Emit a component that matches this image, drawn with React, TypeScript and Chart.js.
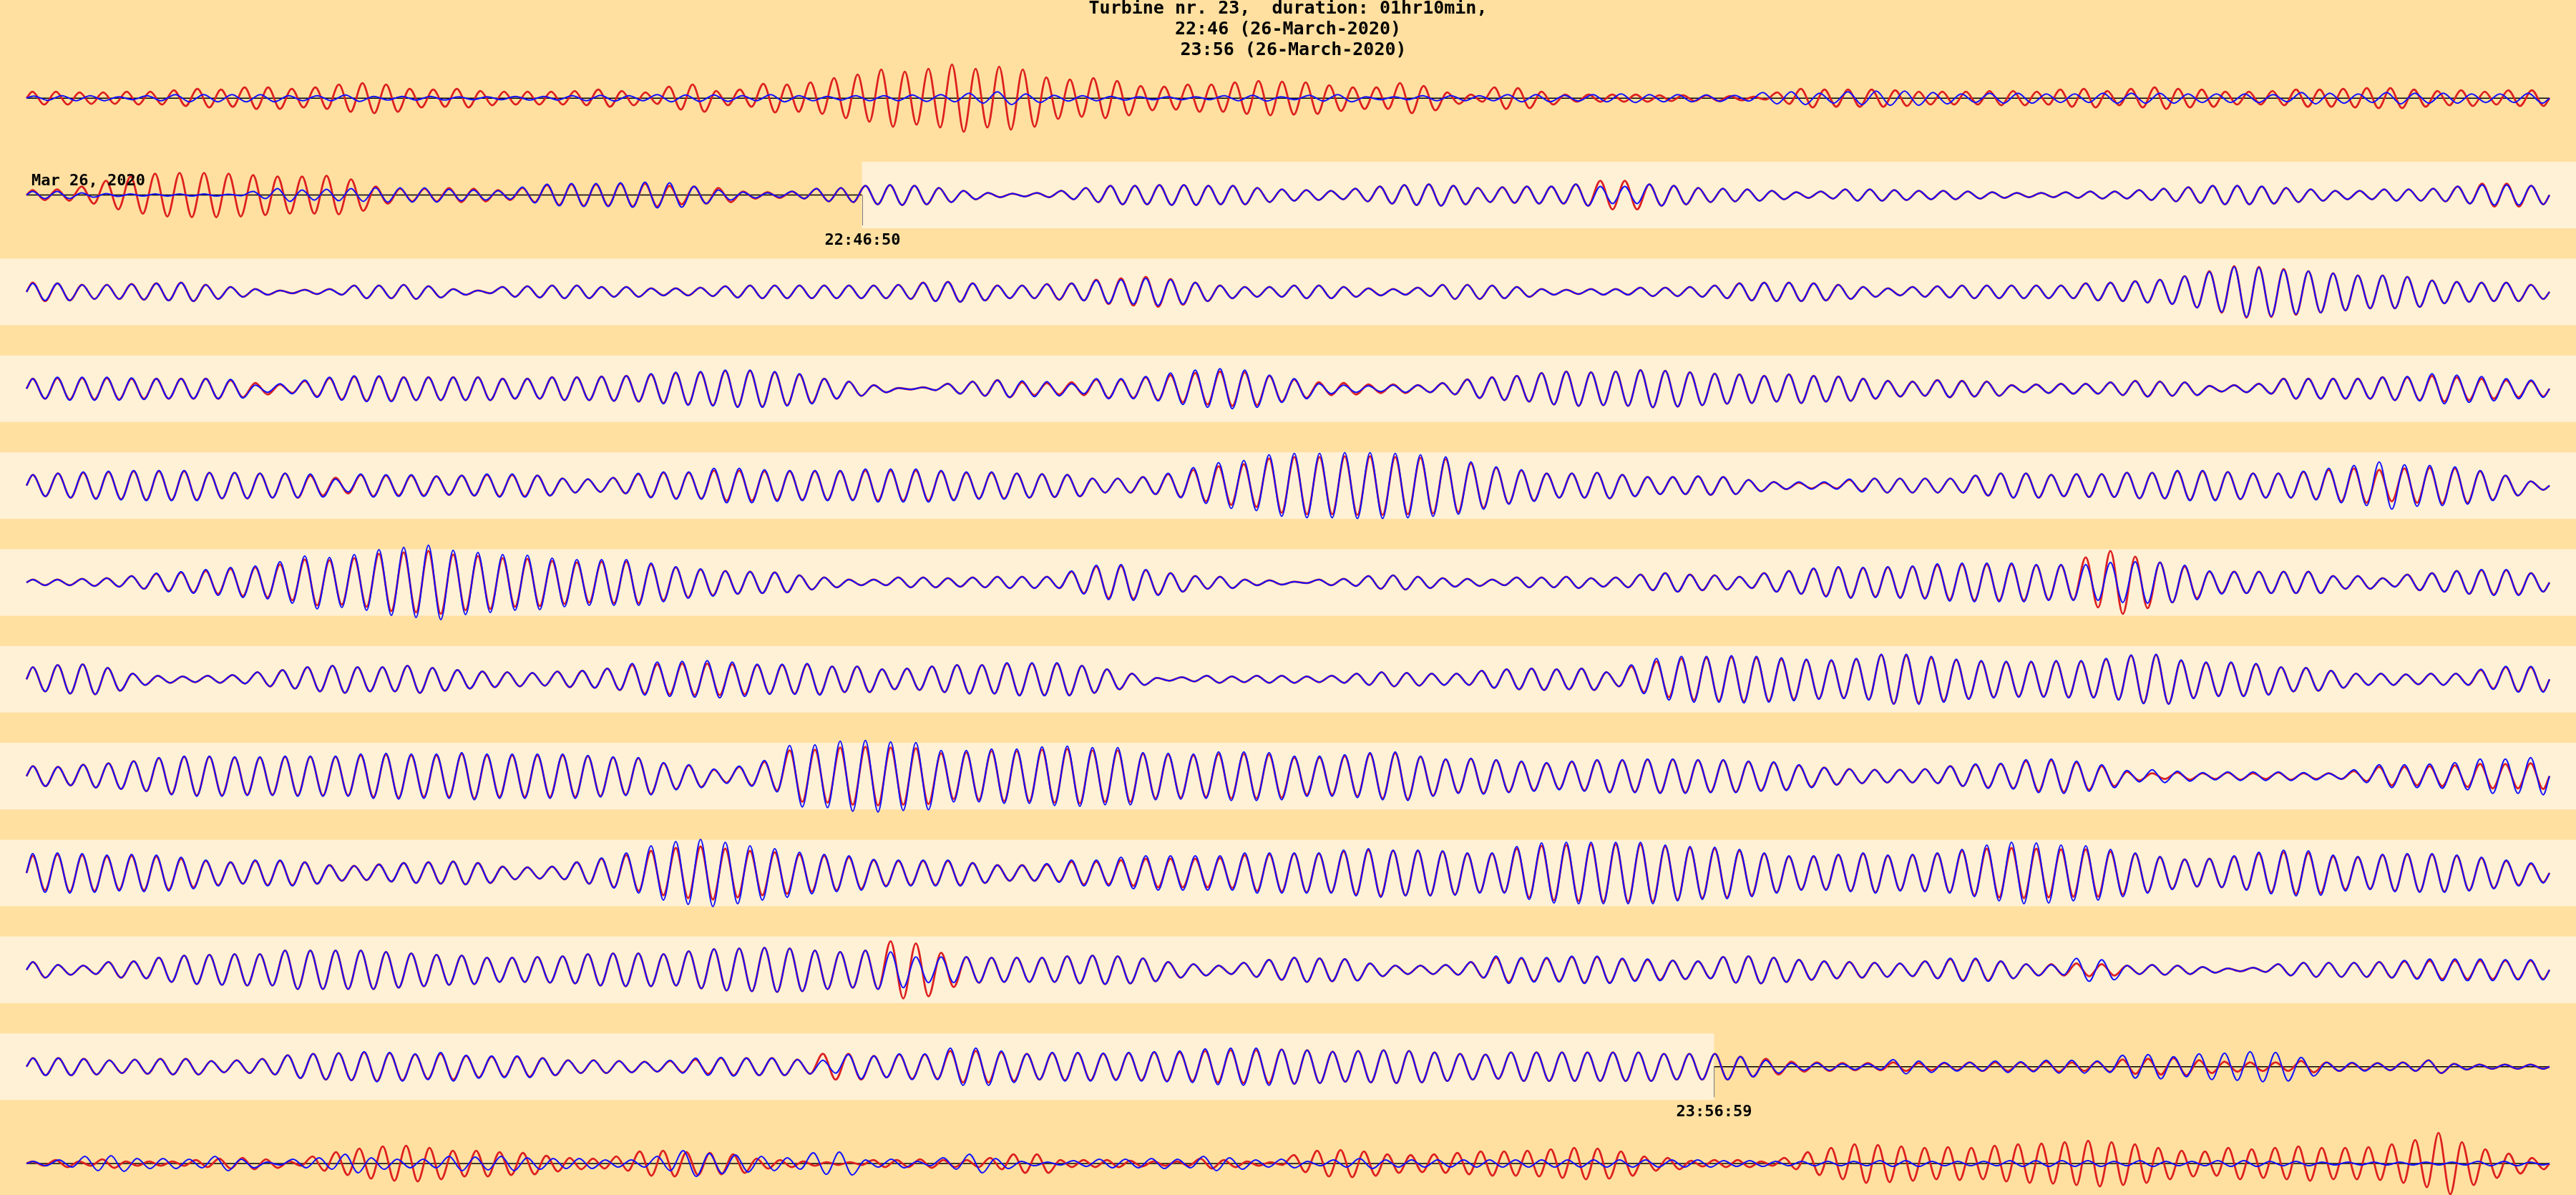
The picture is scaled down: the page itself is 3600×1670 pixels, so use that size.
import React, { useEffect, useRef } from "react";
import { Chart, registerables } from "chart.js";

Chart.register(...registerables);

// ---------- texts ----------
const TITLE_LINES = [
  "Turbine nr. 23,  duration: 01hr10min,",
  "22:46 (26-March-2020)",
  " 23:56 (26-March-2020)",
];
const DATE_LABEL = "Mar 26, 2020";
const FIRST_ROW_START = "22:36:50";
const ROW_SECONDS = 450.75;
const BAND_START = "22:46:50";
const BAND_END = "23:56:59";

// ---------- data: amplitude of each oscillation cycle, per row ----------
const ROW01_RED = [9,9,8,8,9,9,11,13,12,15,15,13,15,19,21,19,13,12,13,10,9,9,9,10,12,10,8,16,19,10,12,20,19,22,28,33,40,37,41,47,41,44,40,29,26,28,24,17,16,19,19,22,24,23,22,18,15,15,21,17,8,5,15,14,9,5,5,5,5,4,4,4,3,2,8,13,12,12,12,11,9,9,9,10,10,9,12,13,10,13,15,13,12,9,9,10,12,12,13,14,14,12,10,11,9,11,11];
const ROW01_BLUE = [3,3.5,3.5,2,3.5,5,5,5,5,3.5,3.5,4.5,2.5,2.5,2.5,2,2,2.5,2.5,3.5,4,3.5,5,4.5,4.5,3.5,5,3.5,2.5,3.5,3.5,4.5,5,7,9,6,4,3.5,2.5,2,2,2,3.5,4,2,4,5,2,2,3.5,3.5,3.5,5,5,4,5,6,5,5,4.5,4,8,9,7,9,10,10,8,6,7,7,6,6,7,7,7,6,6,6,5,8,7,6,8,7,7,6,6,7];
const ROW02_RED = [7,8,12,20,26,30,31,31,30,28,26,26,27,22,12,9,9,10,9,7,10,14,15,15,16,16,13,12,10,5,4,5,9,10,13,14,13,10,6,3,2,3,6,10,13,13,14,14,13,13,10,8,7,6,9,12,14,15,13,10,11,12,12,15,20,20,15,13,10,9,8,6,4,5,8,8,7,6,6,5,4,3,3,4,5,5,7,9,11,13,13,12,10,8,6,6,8,8,9,12,16,16,13];
const ROW02_BLUE = [5,5,3,2,1.5,1.5,1.5,1.5,1,5,9,7,8,9,10,10,10,8,7,6,11,15,16,16,17,18,17,12,7,4,3,5,9,10,13,14,13,10,6,3,2,3,6,10,13,13,14,14,13,13,10,8,7,6,9,12,14,15,13,10,11,12,12,15,12,12,15,13,10,9,8,6,4,5,8,8,7,6,6,5,4,3,3,4,5,5,7,9,11,13,13,12,10,8,6,6,8,8,9,12,14,14,13];
const ROW03_RED = [13,12,10,10,11,12,13,10,7,4,2,3,4,9,9,10,8,4,2,7,8,9,9,7,7,5,5,6,8,9,9,9,9,9,9,10,13,14,12,9,9,11,12,17,19,21,18,13,9,7,7,9,9,7,5,4,6,10,10,9,7,4,3,4,4,6,6,7,9,12,13,13,12,10,7,5,7,8,9,9,9,9,9,12,13,15,17,22,29,36,35,32,29,26,23,23,21,16,14,13,13,10];
const ROW03_BLUE = [12,12,10,10,11,12,13,10,7,4,2,3,4,9,9,10,8,4,2,7,8,9,9,7,7,5,5,6,8,9,9,9,9,9,9,10,13,14,12,9,9,11,12,16,17,19,17,13,9,7,7,9,9,7,5,4,6,10,10,9,7,4,3,4,4,6,6,7,9,12,13,13,12,10,7,5,7,8,9,9,9,9,9,12,13,15,17,22,28,35,34,31,29,26,23,23,21,16,14,13,13,10];
const ROW04_RED = [14,15,15,15,14,14,14,14,12,8,6,11,15,17,17,16,16,16,16,14,14,16,16,17,18,20,22,23,25,25,23,20,14,10,5,1,2,7,10,12,9,8,9,13,13,16,19,22,24,23,18,13,9,8,6,6,5,8,13,16,18,22,24,23,24,26,25,23,21,20,18,20,18,17,14,11,10,12,11,10,5,6,7,7,9,11,10,9,4,5,7,14,14,14,14,16,16,18,16,14,12,11];
const ROW04_BLUE = [14,16,16,16,15,14,14,14,13,5,7,12,16,18,18,16,16,16,16,14,14,16,16,17,18,21,23,24,26,26,24,21,14,10,5,1,2,7,10,12,11,10,7,14,14,17,22,26,28,26,19,14,7,5,4,5,5,8,13,16,18,22,24,23,24,26,25,23,21,20,18,20,18,17,14,11,10,12,11,10,5,6,7,7,9,11,10,9,4,5,7,14,14,14,14,16,17,21,19,17,14,12];
const ROW05_RED = [15,17,18,19,20,20,20,18,18,17,17,14,11,15,14,14,13,14,15,15,14,10,9,11,16,18,18,21,21,20,20,20,20,21,21,21,20,18,18,17,16,15,10,10,12,16,22,27,30,38,40,40,41,41,40,39,37,31,25,21,17,17,18,15,12,12,13,12,8,5,4,4,8,10,10,10,10,14,17,17,15,16,16,18,18,20,20,19,17,17,19,22,24,22,24,25,24,20,14,6];
const ROW05_BLUE = [15,17,19,20,21,21,21,18,18,17,17,16,9,16,15,15,13,14,16,16,14,10,9,11,17,19,19,24,24,22,21,21,21,23,23,23,21,19,19,17,16,15,10,10,12,17,25,32,35,43,45,45,46,46,45,43,40,33,26,22,17,17,18,15,12,12,13,12,8,5,5,5,9,10,10,10,10,14,17,17,15,16,16,18,18,21,21,19,17,17,20,24,28,33,29,28,26,21,14,6];
const ROW06_RED = [4,4,5,6,9,12,14,16,19,21,25,32,31,34,40,42,44,39,37,34,33,30,28,29,29,25,21,18,16,15,14,10,7,4,4,7,7,6,7,8,8,8,15,22,23,17,13,9,8,4,3,1,4,5,9,10,8,6,5,4,7,7,8,6,7,11,13,11,10,8,13,16,19,21,20,21,22,24,25,25,25,24,24,35,44,36,28,22,15,15,15,15,15,9,9,6,11,13,16,17,17,13];
const ROW06_BLUE = [4,4,5,6,9,13,15,18,21,23,29,37,35,39,46,49,52,45,42,39,38,34,32,32,32,27,22,19,16,15,14,10,7,4,4,7,7,6,7,8,8,8,16,24,25,18,13,9,8,4,3,1,4,5,9,10,8,6,5,4,7,7,8,6,7,11,13,11,10,8,13,16,20,22,21,22,23,26,27,27,27,25,25,25,28,29,28,24,16,15,15,15,15,9,9,6,11,13,16,18,18,13];
const ROW07_RED = [17,20,21,16,8,5,4,5,6,10,13,17,19,17,17,19,16,13,11,10,9,11,12,15,20,21,22,22,21,20,20,21,18,18,14,15,18,20,20,22,22,22,19,14,8,2,3,5,4,5,5,4,5,8,10,9,8,8,12,14,15,14,15,10,18,25,29,30,31,30,28,27,26,28,34,33,30,27,25,24,24,25,25,28,33,34,26,23,23,21,17,16,12,8,8,7,8,8,13,17,17];
const ROW07_BLUE = [17,20,21,16,8,5,4,5,6,10,13,17,19,17,17,19,16,13,11,10,9,11,12,15,22,24,25,26,24,21,21,22,18,18,14,15,18,20,20,23,23,23,19,14,8,2,3,5,4,5,5,4,5,8,10,9,8,8,12,14,15,14,15,10,20,29,32,32,33,32,30,28,27,29,35,35,32,28,26,25,25,26,26,29,34,35,27,24,24,22,17,16,12,8,8,7,8,8,14,18,18];
const ROW08_RED = [14,13,16,18,21,25,27,27,26,26,27,27,27,29,30,29,29,31,29,29,29,29,28,26,25,18,15,9,13,20,36,37,40,41,40,39,32,33,35,35,37,38,36,36,31,30,29,31,31,30,26,26,28,31,32,27,23,24,22,20,18,20,22,22,23,23,22,22,20,19,15,12,10,9,9,10,14,16,17,21,22,19,14,6,4,5,4,5,4,5,4,4,7,13,13,14,15,17,17,18];
const ROW08_BLUE = [14,13,16,18,21,26,28,28,27,27,28,28,28,31,32,31,31,33,31,31,31,31,29,27,26,19,16,10,14,22,43,44,49,50,48,47,36,36,38,38,41,42,40,40,33,32,31,34,34,33,28,28,30,33,34,28,24,25,23,21,19,21,23,23,24,24,23,23,21,20,16,12,10,9,9,10,14,17,18,23,24,21,16,8,9,7,5,6,6,6,5,4,9,16,16,17,19,24,24,26];
const ROW09_RED = [24,26,25,23,24,23,20,17,15,17,17,15,11,10,12,14,15,16,14,9,8,9,15,20,25,31,35,37,34,31,29,26,24,22,18,17,17,17,14,11,11,12,16,16,18,20,20,20,21,25,26,27,27,30,32,31,31,30,27,27,34,38,39,40,40,40,37,35,34,31,27,23,23,25,27,24,25,27,31,34,35,34,33,33,30,27,22,19,20,23,27,29,28,23,22,25,26,26,24,21,17,13];
const ROW09_BLUE = [27,28,27,25,26,25,22,18,15,18,18,15,11,10,12,14,15,16,14,9,8,9,15,21,28,38,44,47,43,38,34,29,26,24,19,18,18,18,14,11,11,13,18,18,22,24,24,24,24,28,28,28,28,32,34,32,32,31,28,28,37,42,43,43,43,43,39,37,36,33,28,24,24,26,28,25,26,28,33,39,43,42,39,38,33,28,23,19,20,24,29,32,31,25,23,26,27,27,25,22,18,14];
const ROW10_RED = [11,7,6,11,12,17,20,21,22,22,27,27,27,27,25,23,21,20,17,17,18,19,22,23,23,22,26,29,30,31,30,27,25,27,40,37,24,18,17,17,17,19,20,19,16,11,8,6,10,14,17,16,15,9,6,6,7,11,17,16,16,18,18,15,14,13,12,18,19,17,14,12,11,10,9,12,15,15,12,8,8,9,8,6,7,6,4,2,3,8,10,10,10,11,12,13,13,13,13,13];
const ROW10_BLUE = [11,7,6,11,12,17,20,21,22,22,27,27,27,27,25,23,21,20,17,17,18,19,22,23,23,22,26,29,30,31,30,27,25,27,25,18,18,18,17,17,17,19,20,19,16,11,8,6,10,14,17,16,15,9,6,6,7,11,19,17,17,19,19,16,15,13,12,18,19,17,14,12,11,10,9,12,16,16,12,8,7,16,14,6,7,6,4,2,3,8,10,10,10,11,13,15,15,15,14,14];
const ROW11_RED = [12,12,11,9,10,11,11,8,9,11,16,18,19,20,19,17,18,15,14,14,12,9,9,8,7,8,10,12,12,12,10,18,18,15,17,17,22,22,20,18,19,19,18,19,20,20,22,23,23,24,23,21,22,23,22,20,18,17,20,20,20,20,20,20,18,18,18,14,11,7,6,5,5,6,5,5,6,6,6,7,6,7,10,11,12,9,7,6,6,8,6,5,5,6,9,4,3,3,3];
const ROW11_BLUE = [12,12,11,9,10,11,11,8,9,11,16,18,19,21,20,18,20,16,15,15,12,9,9,8,7,9,12,13,12,12,10,9,17,15,18,18,26,26,22,18,20,20,19,20,21,22,25,26,26,24,23,21,22,23,22,20,18,17,20,20,20,20,20,20,18,18,18,14,9,5,5,4,4,10,8,6,6,8,7,9,9,8,16,17,14,18,19,21,20,13,6,6,5,6,9,4,3,3,3];
const ROW12_RED = [3,5,3,6,3,3,3,5,7,8,6,3,10,16,21,24,25,22,18,18,16,15,11,8,7,10,17,18,16,15,13,7,5,3,2,2,5,5,6,5,5,8,13,13,5,5,5,4,3,3,7,5,3,2,12,18,19,17,13,12,13,15,17,17,18,20,22,21,17,10,8,4,5,5,3,8,16,22,27,26,24,22,23,22,25,27,28,30,32,30,27,22,18,17,22,20,22,24,22,22,23,27,33,43,30,20,14,8];
const ROW12_BLUE = [3,5,10,11,7,7,6,10,6,2,6,8,13,8,6,6,10,9,10,8,7,7,5,5,10,18,14,12,10,8,15,16,5,6,3,8,13,7,3,2,4,6,6,7,6,10,8,5,6,3,5,7,5,5,5,5,5,5,5,5,5,5,5,5,5,4,4,3,3,3,3,4,4,3,3,3,4,4,4,4,3,4,3,3,4,4,3,3,2,2,2,2,2,2,3,3,2];

const RED_ROWS = [ROW01_RED, ROW02_RED, ROW03_RED, ROW04_RED, ROW05_RED, ROW06_RED, ROW07_RED, ROW08_RED, ROW09_RED, ROW10_RED, ROW11_RED, ROW12_RED];
const BLUE_ROWS = [ROW01_BLUE, ROW02_BLUE, ROW03_BLUE, ROW04_BLUE, ROW05_BLUE, ROW06_BLUE, ROW07_BLUE, ROW08_BLUE, ROW09_BLUE, ROW10_BLUE, ROW11_BLUE, ROW12_BLUE];

// ---------- style ----------
const BG = "#FFE0A0";
const BAND = "#FFF1D6";
const RED = "#DD2020";
const BLUE = "#1010FF";
const FONT = '"DejaVu Sans Mono", "Liberation Mono", monospace';
const Y_MAX = 91.4;
const Y_MIN = -43.95;
const BAND_HALF = 46.5;

const toSec = (s: string) => {
  const [h, m, x] = s.split(":").map(Number);
  return h * 3600 + m * 60 + x;
};

// each cycle becomes a crest and a trough, evenly spaced over the row's time span
function toPoints(amps: number[]) {
  const n = amps.length * 2;
  const pts: { x: number; y: number }[] = [{ x: 0, y: 0 }];
  amps.forEach((a, k) => {
    pts.push({ x: ((2 * k + 0.5) * ROW_SECONDS) / n, y: a });
    pts.push({ x: ((2 * k + 1.5) * ROW_SECONDS) / n, y: -a });
  });
  pts.push({ x: ROW_SECONDS, y: 0 });
  return pts;
}

const startOff = toSec(BAND_START) - toSec(FIRST_ROW_START);
const endOff = toSec(BAND_END) - toSec(FIRST_ROW_START);
const BAND_START_ROW = Math.floor(startOff / ROW_SECONDS);
const BAND_START_X = startOff - BAND_START_ROW * ROW_SECONDS;
const BAND_END_ROW = Math.floor(endOff / ROW_SECONDS);
const BAND_END_X = endOff - BAND_END_ROW * ROW_SECONDS;

const decor = {
  id: "decor",
  beforeDraw(chart: any) {
    const { ctx, width, height } = chart;
    const xs = chart.scales.x;
    ctx.save();
    ctx.fillStyle = BG;
    ctx.fillRect(0, 0, width, height);
    ctx.fillStyle = BAND;
    for (let r = BAND_START_ROW; r <= BAND_END_ROW; r++) {
      const ys = chart.scales["y" + r];
      const top = ys.getPixelForValue(BAND_HALF);
      const bot = ys.getPixelForValue(-BAND_HALF);
      const left = r === BAND_START_ROW ? xs.getPixelForValue(BAND_START_X) : 0;
      const right = r === BAND_END_ROW ? xs.getPixelForValue(BAND_END_X) : width;
      ctx.fillRect(left, top, right - left, bot - top);
    }
    ctx.restore();
  },
  beforeDatasetsDraw(chart: any) {
    const { ctx, chartArea } = chart;
    const xs = chart.scales.x;
    ctx.save();
    ctx.strokeStyle = "#000000";
    ctx.lineWidth = 1.6;
    for (let r = 0; r < RED_ROWS.length; r++) {
      let a = chartArea.left;
      let b = chartArea.right;
      if (r > BAND_START_ROW && r < BAND_END_ROW) continue;
      if (r === BAND_START_ROW) b = xs.getPixelForValue(BAND_START_X);
      if (r === BAND_END_ROW) a = xs.getPixelForValue(BAND_END_X);
      const y = chart.scales["y" + r].getPixelForValue(0);
      ctx.beginPath();
      ctx.moveTo(a, y);
      ctx.lineTo(b, y);
      ctx.stroke();
    }
    ctx.restore();
  },
  afterDatasetsDraw(chart: any) {
    const { ctx, chartArea, width } = chart;
    const xs = chart.scales.x;
    ctx.save();
    const marks = [
      { row: BAND_START_ROW, x: BAND_START_X, text: BAND_START },
      { row: BAND_END_ROW, x: BAND_END_X, text: BAND_END },
    ];
    for (const m of marks) {
      const ys = chart.scales["y" + m.row];
      const px = Math.round(xs.getPixelForValue(m.x)) + 0.5;
      const y0 = ys.getPixelForValue(0);
      const yb = ys.getPixelForValue(-BAND_HALF);
      ctx.strokeStyle = "#7a7a7a";
      ctx.lineWidth = 1;
      ctx.beginPath();
      ctx.moveTo(px, y0);
      ctx.lineTo(px, yb - 4);
      ctx.stroke();
      ctx.fillStyle = "#000";
      ctx.font = "bold 22px " + FONT;
      ctx.textAlign = "center";
      ctx.textBaseline = "middle";
      ctx.fillText(m.text, px, yb + 17);
    }
    // date label
    const yd = chart.scales["y" + BAND_START_ROW].getPixelForValue(0);
    ctx.fillStyle = "#000";
    ctx.font = "bold 22px " + FONT;
    ctx.textAlign = "left";
    ctx.textBaseline = "alphabetic";
    ctx.fillText(DATE_LABEL, chartArea.left + 7, yd - 14);
    // title
    ctx.font = "bold 25px " + FONT;
    ctx.textAlign = "center";
    ctx.textBaseline = "middle";
    TITLE_LINES.forEach((t, i) => ctx.fillText(t, width / 2, 12 + i * 29));
    ctx.restore();
  },
};

export default function App() {
  const ref = useRef<HTMLCanvasElement>(null);
  useEffect(() => {
    document.body.style.margin = "0";
    document.body.style.overflow = "hidden";
    const canvas = ref.current!;
    const datasets: any[] = [];
    for (let r = 0; r < RED_ROWS.length; r++) {
      datasets.push({
        label: "blue " + (r + 1),
        data: toPoints(BLUE_ROWS[r]),
        xAxisID: "x",
        yAxisID: "y" + r,
        borderColor: BLUE,
        borderWidth: 2,
        pointRadius: 0,
        cubicInterpolationMode: "monotone",
        fill: false,
        clip: false,
        order: 0,
      });
      datasets.push({
        label: "red " + (r + 1),
        data: toPoints(RED_ROWS[r]),
        xAxisID: "x",
        yAxisID: "y" + r,
        borderColor: RED,
        borderWidth: 2.8,
        pointRadius: 0,
        cubicInterpolationMode: "monotone",
        fill: false,
        clip: false,
        order: 1,
      });
    }
    const scales: any = {
      x: { type: "linear", min: 0, max: ROW_SECONDS, display: false },
    };
    for (let r = 0; r < RED_ROWS.length; r++) {
      scales["y" + r] = {
        type: "linear",
        position: "right",
        stack: "rows",
        stackWeight: 1,
        min: Y_MIN,
        max: Y_MAX,
        display: false,
      };
    }
    const chart = new Chart(canvas, {
      type: "line",
      data: { datasets },
      options: {
        animation: false,
        responsive: false,
        devicePixelRatio: 1,
        events: [],
        layout: { padding: { left: 37, right: 37, top: 45.8, bottom: 0 } },
        elements: { line: { capBezierPoints: false } },
        plugins: {
          legend: { display: false },
          tooltip: { enabled: false },
          title: { display: false },
        },
        scales,
      } as any,
      plugins: [decor],
    });
    return () => chart.destroy();
  }, []);
  return (
    <canvas
      ref={ref}
      width={3600}
      height={1670}
      style={{ display: "block", width: "3600px", height: "1670px" }}
    />
  );
}
